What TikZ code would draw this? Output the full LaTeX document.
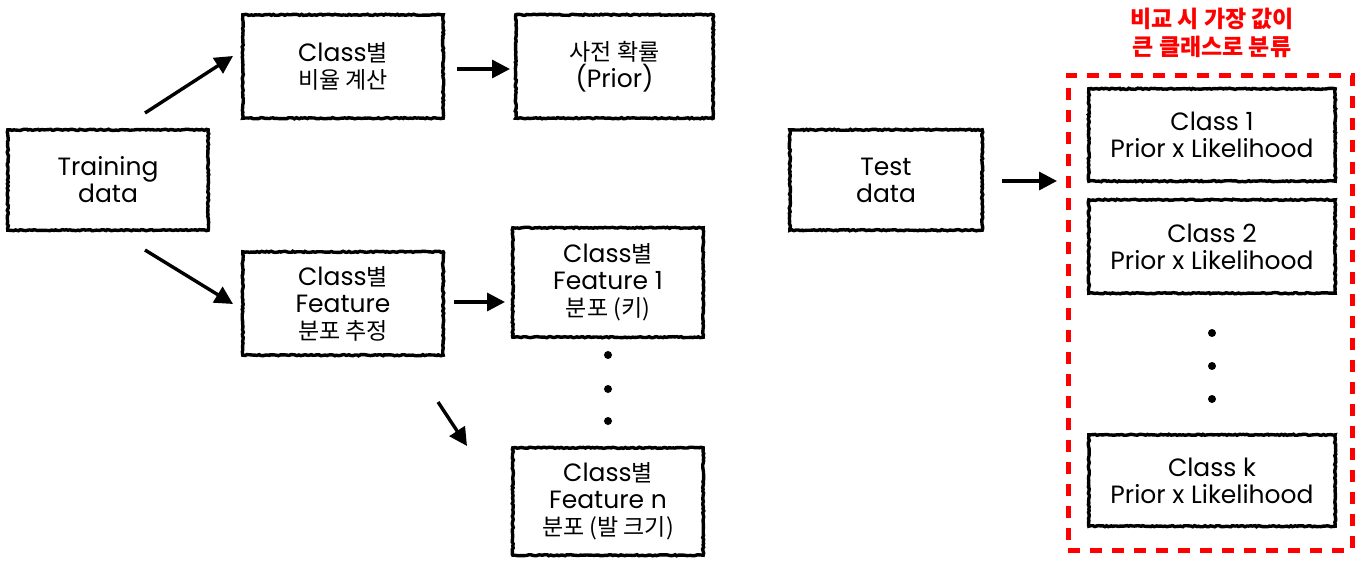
\documentclass[tikz,border=0pt]{standalone}
\usepackage{fontspec}
\setmainfont{Poppins}
\newfontfamily\krfont{Noto Sans CJK KR}
\newcommand{\kr}[1]{{\krfont\fontsize{23}{27}\selectfont #1}}
\usetikzlibrary{arrows.meta,decorations.pathmorphing}
\begin{document}
\begin{tikzpicture}[x=1pt,y=-1pt,
  box/.style={minimum width=#1, inner sep=0pt, align=center, font=\fontsize{25}{27}\selectfont},
  rough/.style={draw=black, line width=3.4pt, decorate, decoration={random steps, segment length=2pt, amplitude=0.6pt}},
  arr/.style={line width=3.4pt, -{Triangle[length=18pt,width=18pt]}},
  dotc/.style={circle, fill=black, minimum size=8pt, inner sep=0pt}]
\useasboundingbox (0,0) rectangle (1365,570);
\fill[white] (0,0) rectangle (1365,570);

\node[box=200pt, minimum height=100pt] (train) at (108,180) {Training\\data};
\node[box=200pt, minimum height=103pt] (ratio) at (343,66.5) {Class\kr{별}\\\kr{비율 계산}};
\node[box=197pt, minimum height=103pt] (prior) at (614.5,66.5) {\kr{사전 확률}\\(Prior)};
\node[box=200pt, minimum height=103pt] (est) at (343,303.5) {Class\kr{별}\\Feature\\\kr{분포 추정}};
\node[box=190pt, minimum height=109pt] (f1) at (608,282.5) {Class\kr{별}\\Feature 1\\\kr{분포 (키)}};
\node[box=190pt, minimum height=107pt] (fn) at (608,501.5) {Class\kr{별}\\Feature n\\\kr{분포 (발 크기)}};
\node[box=192pt, minimum height=100pt] (test) at (886,180) {Test\\data};
\node[box=246pt, minimum height=92pt] (c1) at (1212,135) {Class 1\\Prior x Likelihood};
\node[box=246pt, minimum height=93pt] (c2) at (1212,246.5) {Class 2\\Prior x Likelihood};
\node[box=246pt, minimum height=91pt] (ck) at (1212,480.5) {Class k\\Prior x Likelihood};

\foreach \n in {train,ratio,prior,est,f1,fn,test,c1,c2,ck}
  \draw[rough] (\n.north west) rectangle (\n.south east);

\node[minimum width=284pt, minimum height=475pt, inner sep=0pt, draw=red, line width=5pt, dash pattern=on 12pt off 10pt] (grp) at (1210,312.5) {};
\node[text=red, align=center, font=\krfont\bfseries\fontsize{23}{28}\selectfont] (note) at (1212,33) {비교 시 가장 값이\\큰 클래스로 분류};

\node[dotc] (d1) at (608,355) {};
\node[dotc] (d2) at (608,389) {};
\node[dotc] (d3) at (608,421) {};
\node[dotc] (e1) at (1212,333) {};
\node[dotc] (e2) at (1212,366) {};
\node[dotc] (e3) at (1212,399) {};

\coordinate (a1s) at (145,113); \coordinate (a1e) at (233,56);
\coordinate (a2s) at (145,250); \coordinate (a2e) at (233,304);
\coordinate (a3s) at (457,69); \coordinate (a3e) at (510,69);
\coordinate (a4s) at (454,302); \coordinate (a4e) at (505,302);
\coordinate (a5s) at (438,402); \coordinate (a5e) at (467,446);
\coordinate (a6s) at (1002,181); \coordinate (a6e) at (1057,181);
\foreach \i in {1,...,6} \draw[arr] (a\i s) -- (a\i e);
\end{tikzpicture}
\end{document}
